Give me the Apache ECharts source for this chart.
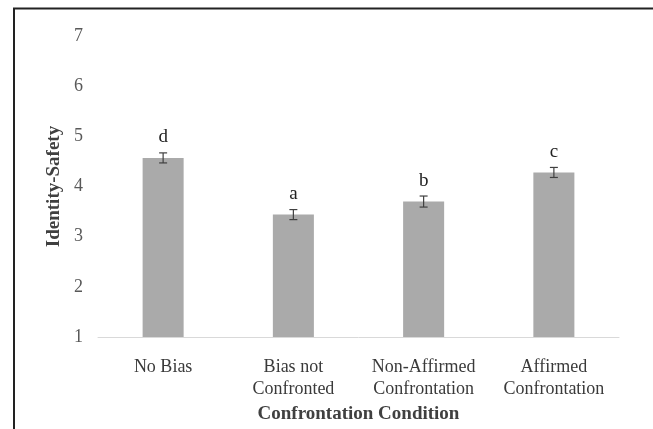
<!DOCTYPE html>
<html>
<head>
<meta charset="utf-8">
<script src="https://cdn.jsdelivr.net/npm/echarts@6/dist/echarts.min.js"></script>
<style>
  html, body { margin: 0; padding: 0; background: #fff; }
  #chart { width: 653px; height: 429px; }
</style>
</head>
<body>
<div id="chart"></div>
<script>
// Identity-safety means by confrontation condition
const categories = ['No Bias', 'Bias not\nConfronted', 'Non-Affirmed\nConfrontation', 'Affirmed\nConfrontation'];
const means = [4.57, 3.44, 3.70, 4.28];
const stdErrors = [0.10, 0.10, 0.11, 0.10];
const groupLetters = ['d', 'a', 'b', 'c'];
const yTicks = [1, 2, 3, 4, 5, 6, 7];

const serif = 'Liberation Serif';
const chart = echarts.init(document.getElementById('chart'), null, { renderer: 'canvas' });

const errorData = means.map((m, i) => [i, m - stdErrors[i], m + stdErrors[i]]);

// Axis titles
const titleStyle = {
  fontFamily: serif, fontSize: 19, fontWeight: 'bold', color: '#404040'
};

chart.setOption({
  animation: false,
  backgroundColor: '#ffffff',
  grid: { left: 98, right: 34, top: 36, bottom: 92 },
  graphic: [
    {
      type: 'polyline',
      shape: { points: [[14, 429], [14, 8.5], [653, 8.5]] },
      style: { stroke: '#222', lineWidth: 2, fill: null }
    }
  ],
  xAxis: {
    type: 'category',
    data: categories,
    axisLine: { show: true, lineStyle: { color: '#d9d9d9', width: 1 } },
    axisTick: { show: false },
    axisLabel: {
      fontFamily: serif, fontSize: 18, color: '#3a3a3a',
      lineHeight: 22, margin: 19, interval: 0
    },
    name: 'Confrontation Condition',
    nameLocation: 'middle',
    nameGap: 68,
    nameTextStyle: titleStyle
  },
  yAxis: {
    type: 'value',
    min: yTicks[0],
    max: yTicks[yTicks.length - 1],
    interval: 1,
    axisLine: { show: false },
    axisTick: { show: false },
    splitLine: { show: false },
    axisLabel: { fontFamily: serif, fontSize: 18, color: '#595959', margin: 15 },
    name: 'Identity-Safety',
    nameLocation: 'middle',
    nameGap: 31,
    nameRotate: 90,
    nameTextStyle: titleStyle
  },
  series: [
    {
      type: 'bar',
      data: means,
      barWidth: '31.5%',
      itemStyle: { color: '#aaaaaa' },
      z: 2
    },
    {
      type: 'custom',
      data: errorData,
      z: 3,
      renderItem: function (params, api) {
        const x = api.coord([api.value(0), api.value(1)])[0];
        const yLo = api.coord([api.value(0), api.value(1)])[1];
        const yHi = api.coord([api.value(0), api.value(2)])[1];
        const cap = 4;
        const style = { stroke: '#404040', lineWidth: 1.2 };
        const i = params.dataIndex;
        return {
          type: 'group',
          children: [
            { type: 'line', shape: { x1: x, y1: yLo, x2: x, y2: yHi }, style: style },
            { type: 'line', shape: { x1: x - cap, y1: yLo, x2: x + cap, y2: yLo }, style: style },
            { type: 'line', shape: { x1: x - cap, y1: yHi, x2: x + cap, y2: yHi }, style: style },
            {
              type: 'text',
              x: x,
              y: yHi - 6,
              style: {
                text: groupLetters[i],
                fontFamily: serif,
                fontSize: 19,
                fill: '#222',
                align: 'center',
                verticalAlign: 'bottom'
              }
            }
          ]
        };
      }
    }
  ]
});
</script>
</body>
</html>
